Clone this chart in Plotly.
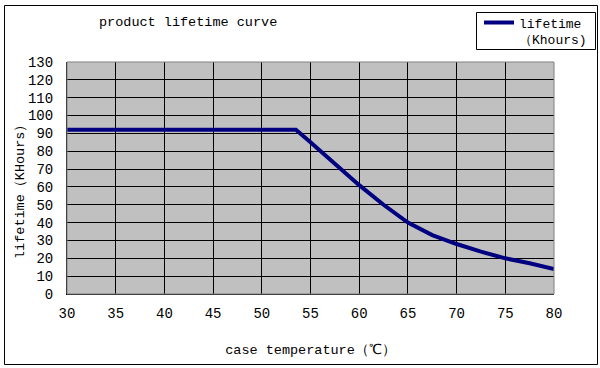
import plotly.graph_objects as go

temperature = [30, 53.5, 55, 60, 62.5, 65, 67.5, 70, 72.5, 75, 77.5, 80]
lifetime = [92, 92, 85, 61, 50, 40, 33, 28, 23.7, 20, 17.2, 14]

x_ticks = [30, 35, 40, 45, 50, 55, 60, 65, 70, 75, 80]
y_ticks = list(range(0, 131, 10))

FONT = "Liberation Mono"
L, T, PW, PH = 67, 62, 487, 232


def px(x):
    return (x - L) / PW


def py(y):
    return (T + PH - y) / PH


fig = go.Figure()
fig.add_trace(go.Scatter(
    x=temperature, y=lifetime, mode="lines",
    name="lifetime<br>（Khours)",
    line=dict(color="#000080", width=4),
))

fig.update_layout(
    width=600, height=368,
    margin=dict(l=L, r=600 - L - PW, t=T, b=368 - T - PH, autoexpand=False),
    paper_bgcolor="white",
    plot_bgcolor="#C0C0C0",
    font=dict(family=FONT, size=13.5, color="black"),
    showlegend=True,
    legend=dict(
        x=px(479), y=py(7.5), xanchor="left", yanchor="top",
        borderwidth=0, bgcolor="rgba(0,0,0,0)",
        valign="top", font=dict(family=FONT, size=13),
        itemwidth=30, tracegroupgap=0,
    ),
    annotations=[
        dict(text="product lifetime curve", xref="paper", yref="paper",
             x=px(188), y=py(22), xanchor="center", yanchor="middle",
             showarrow=False, font=dict(family=FONT, size=13.5)),
        dict(text="lifetime（KHours）", xref="paper", yref="paper",
             x=px(20), y=py(189), xanchor="center", yanchor="middle",
             textangle=-90, showarrow=False, font=dict(family=FONT, size=13.5)),
    ],
    shapes=[
        dict(type="rect", xref="paper", yref="paper",
             x0=px(4.5), x1=px(597.5), y0=py(364.5), y1=py(5.5),
             line=dict(color="black", width=1), layer="below"),
        dict(type="rect", xref="paper", yref="paper",
             x0=px(476.5), x1=px(595.5), y0=py(49.5), y1=py(12.5),
             line=dict(color="black", width=1), layer="below"),
        dict(type="rect", xref="paper", yref="paper", x0=0, x1=1, y0=0, y1=1,
             line=dict(color="#808080", width=1)),
    ],
)

fig.update_xaxes(
    range=[30, 80], tickvals=x_ticks, ticktext=[str(v) for v in x_ticks],
    showgrid=True, gridcolor="black", gridwidth=1,
    showline=True, linecolor="black", linewidth=1,
    ticks="", ticklabelstandoff=6, automargin=False,
    tickfont=dict(family=FONT, size=14),
    title=dict(text="case temperature（℃）", standoff=23, font=dict(family=FONT, size=13.5)),
    zeroline=False,
)
fig.update_yaxes(
    range=[0, 130], tickvals=y_ticks, ticktext=[str(v) for v in y_ticks],
    showgrid=True, gridcolor="black", gridwidth=1,
    showline=True, linecolor="black", linewidth=1,
    ticks="", ticklabelstandoff=10, automargin=False,
    tickfont=dict(family=FONT, size=14),
    zeroline=False,
)

fig.write_html(
    "out.html",
    config={"displayModeBar": False},
    post_script="document.body.style.margin='0';document.body.style.padding='0';",
)
